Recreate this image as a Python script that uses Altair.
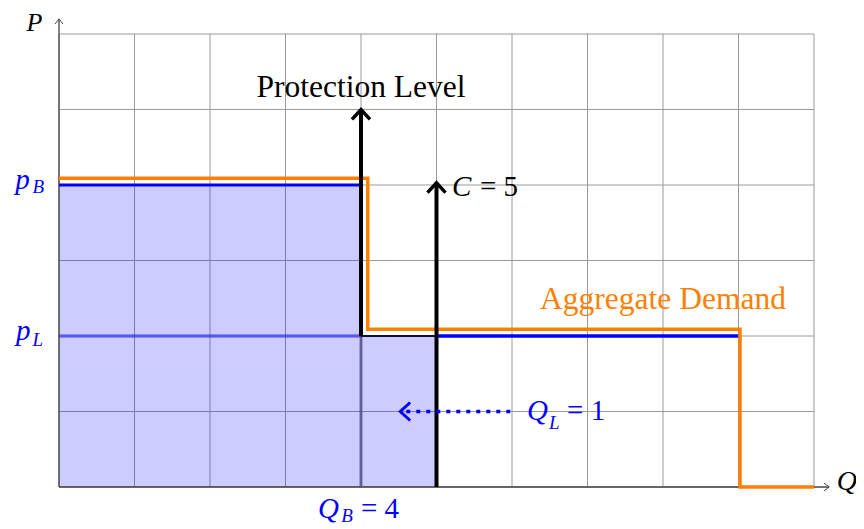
import altair as alt
import pandas as pd

# ---------------- data ----------------
grid_q = [0, 1, 2, 3, 4, 5, 6, 7, 8, 9, 10]
grid_p = [0, 1, 2, 3, 4, 5, 6]

# business-class bid price curve (blue) and aggregate demand (orange)
bid_q = [0, 4, 4]
bid_p = [4, 4, 2]
leisure_q = [5, 9]
leisure_p = [2, 2]
agg_q = [0, 4.09, 4.09, 9.02, 9.02, 10]
agg_p = [4.09, 4.09, 2.09, 2.09, 0, 0]

# shaded revenue blocks
block_q0 = [0, 4]
block_q1 = [4, 5]
block_p0 = [0, 0]
block_p1 = [4, 2]

# arrows
protection_q, protection_p0, protection_p1 = 4, 2, 5
capacity_q, capacity_p0, capacity_p1 = 5, 0, 4.03
ql_p, ql_from, ql_to = 1, 6.0, 4.52
axis_q_end, axis_p_end = 10.2, 6.2

# text labels
label_text = ["Protection Level", "Aggregate Demand"]
label_q = [4.0, 8.0]
label_p = [5.166, 2.358]
label_color = ["black", "#ff8000"]

math_text = ["P", "Q", "p", "p", "C", "Q", "Q"]
math_size = [26, 28, 29, 29, 29, 29, 29]
math_q = [-0.43, 10.30, -0.58, -0.57, 5.205, 6.199, 3.43]
math_p = [6.04, -0.04, 3.947, 1.947, 3.854, 0.887, -0.411]
math_color = ["black", "black", "blue", "blue", "black", "blue", "blue"]

sub_text = ["B", "L", "L", "B"]
sub_q = [-0.35, -0.35, 6.49, 3.74]
sub_p = [3.89, 1.87, 0.765, -0.467]
sub_color = ["blue", "blue", "blue", "blue"]

eq_text = ["= 5", "= 1", "= 4"]
eq_q = [5.576, 6.73, 4.0]
eq_p = [3.854, 0.887, -0.411]
eq_color = ["black", "blue", "blue"]

SERIF = "Liberation Serif, DejaVu Serif, serif"

# ---------------- helpers ----------------
xs = alt.Scale(domain=[0, 10], nice=False, zero=False)
ys = alt.Scale(domain=[0, 6], nice=False, zero=False)


def X(f):
    return alt.X(f, type="quantitative", scale=xs, axis=None)


def Y(f):
    return alt.Y(f, type="quantitative", scale=ys, axis=None)


ORANGE = "#ff8000"
BLUE = "#0000ff"

# grid
vgrid = pd.DataFrame({"q": grid_q, "p0": [0] * len(grid_q), "p1": [6] * len(grid_q)})
hgrid = pd.DataFrame({"p": grid_p, "q0": [0] * len(grid_p), "q1": [10] * len(grid_p)})
grid_v = alt.Chart(vgrid).mark_rule(color="#9a9a9a", strokeWidth=1).encode(
    x=X("q"), y=Y("p0"), y2="p1")
grid_h = alt.Chart(hgrid).mark_rule(color="#9a9a9a", strokeWidth=1).encode(
    y=Y("p"), x=X("q0"), x2="q1")

# fills
blocks = pd.DataFrame({"q0": block_q0, "q1": block_q1, "p0": block_p0, "p1": block_p1})
fill = alt.Chart(blocks).mark_rect(color=BLUE, opacity=0.2).encode(
    x=X("q0"), x2="q1", y=Y("p0"), y2="p1")

# semi-transparent outlines inside the fill
inner_h = alt.Chart(pd.DataFrame({"q0": [0], "q1": [4], "p": [2]})).mark_rule(
    color=BLUE, opacity=0.45, strokeWidth=3.5).encode(x=X("q0"), x2="q1", y=Y("p"))
inner_v = alt.Chart(pd.DataFrame({"q": [4, 5], "p0": [0, 0], "p1": [2, 2]})).mark_rule(
    color="#34346e", opacity=0.6, strokeWidth=3).encode(x=X("q"), y=Y("p0"), y2="p1")
inner_top = alt.Chart(pd.DataFrame({"q0": [4], "q1": [5], "p": [2]})).mark_rule(
    color="#101030", strokeWidth=2).encode(x=X("q0"), x2="q1", y=Y("p"))

# axes
ax_x = alt.Chart(pd.DataFrame({"q0": [0], "q1": [axis_q_end], "p": [0]})).mark_rule(
    color="#444444", strokeWidth=1.3).encode(x=X("q0"), x2="q1", y=Y("p"))
ax_y = alt.Chart(pd.DataFrame({"q": [0], "p0": [0], "p1": [axis_p_end]})).mark_rule(
    color="#444444", strokeWidth=1.3).encode(x=X("q"), y=Y("p0"), y2="p1")
ax_x_head = alt.Chart(pd.DataFrame({"q": [axis_q_end], "p": [0]})).mark_point(
    shape="M-1.3,-1L0,0L-1.3,1", filled=False, size=64, color="#444444",
    strokeWidth=1, opacity=1).encode(x=X("q"), y=Y("p"))
ax_y_head = alt.Chart(pd.DataFrame({"q": [0], "p": [axis_p_end]})).mark_point(
    shape="M-1,1.3L0,0L1,1.3", filled=False, size=64, color="#444444",
    strokeWidth=1, opacity=1).encode(x=X("q"), y=Y("p"))

# curves
bid_df = pd.DataFrame({"q": bid_q, "p": bid_p, "i": list(range(len(bid_q)))})
bid_line = alt.Chart(bid_df).mark_line(color=BLUE, strokeWidth=3, strokeJoin="miter").encode(
    x=X("q"), y=Y("p"), order="i:Q")
leis_df = pd.DataFrame({"q0": [leisure_q[0]], "q1": [leisure_q[1]], "p": [leisure_p[0]]})
leis_line = alt.Chart(leis_df).mark_rule(color=BLUE, strokeWidth=3.5).encode(
    x=X("q0"), x2="q1", y=Y("p"))
agg_df = pd.DataFrame({"q": agg_q, "p": agg_p, "i": list(range(len(agg_q)))})
agg_line = alt.Chart(agg_df).mark_line(color=ORANGE, strokeWidth=3.5, strokeJoin="miter").encode(
    x=X("q"), y=Y("p"), order="i:Q")

# thick black arrows
arr_df = pd.DataFrame({"q": [protection_q, capacity_q],
                       "p0": [protection_p0, capacity_p0],
                       "p1": [protection_p1, capacity_p1]})
arr_shaft = alt.Chart(arr_df).mark_rule(color="black", strokeWidth=4).encode(
    x=X("q"), y=Y("p0"), y2="p1")
arr_head = alt.Chart(arr_df).mark_point(
    shape="M-1,1.1L0,0L1,1.1", filled=False, size=324, color="black",
    strokeWidth=3.5, opacity=1, strokeJoin="miter").encode(x=X("q"), y=Y("p1"))

# dotted Q_L arrow
ql_df = pd.DataFrame({"q0": [ql_to + 0.08], "q1": [ql_from], "p": [ql_p], "qt": [ql_to]})
ql_shaft = alt.Chart(ql_df).mark_rule(color=BLUE, strokeWidth=3.5, strokeDash=[4, 6]).encode(
    x=X("q0"), x2="q1", y=Y("p"))
ql_head = alt.Chart(ql_df).mark_point(
    shape="M1.1,-1L0,0L1.1,1", filled=False, size=324, color=BLUE,
    strokeWidth=3, opacity=1).encode(x=X("qt"), y=Y("p"))

# texts
lab_df = pd.DataFrame({"t": label_text, "q": label_q, "p": label_p, "c": label_color})
labels = alt.Chart(lab_df).mark_text(
    font=SERIF, fontSize=31.5, align="center", baseline="alphabetic").encode(
    x=X("q"), y=Y("p"), text="t:N", color=alt.Color("c:N", scale=None))

math_df = pd.DataFrame({"t": math_text, "q": math_q, "p": math_p, "c": math_color,
                        "s": math_size})
math = alt.Chart(math_df).mark_text(
    font=SERIF, fontStyle="italic", align="left",
    baseline="alphabetic").encode(
    x=X("q"), y=Y("p"), text="t:N", color=alt.Color("c:N", scale=None),
    size=alt.Size("s:Q", scale=None))

sub_df = pd.DataFrame({"t": sub_text, "q": sub_q, "p": sub_p, "c": sub_color})
subs = alt.Chart(sub_df).mark_text(
    font=SERIF, fontSize=19, fontStyle="italic", align="left",
    baseline="alphabetic").encode(
    x=X("q"), y=Y("p"), text="t:N", color=alt.Color("c:N", scale=None))

eq_df = pd.DataFrame({"t": eq_text, "q": eq_q, "p": eq_p, "c": eq_color})
eqs = alt.Chart(eq_df).mark_text(
    font=SERIF, fontSize=29, align="left", baseline="alphabetic").encode(
    x=X("q"), y=Y("p"), text="t:N", color=alt.Color("c:N", scale=None))

chart = alt.layer(
    grid_v, grid_h, fill, inner_h, inner_v, inner_top,
    ax_x, ax_y, ax_x_head, ax_y_head,
    bid_line, leis_line, agg_line,
    arr_shaft, arr_head, ql_shaft, ql_head,
    labels, math, subs, eqs,
).properties(
    width=755, height=453,
    autosize=alt.AutoSizeParams(type="none"),
    padding={"left": 51, "top": 26, "right": 42, "bottom": 42},
    background="white",
).configure_view(stroke=None)

chart.save("out.html", embed_options={"renderer": "svg", "actions": False})
